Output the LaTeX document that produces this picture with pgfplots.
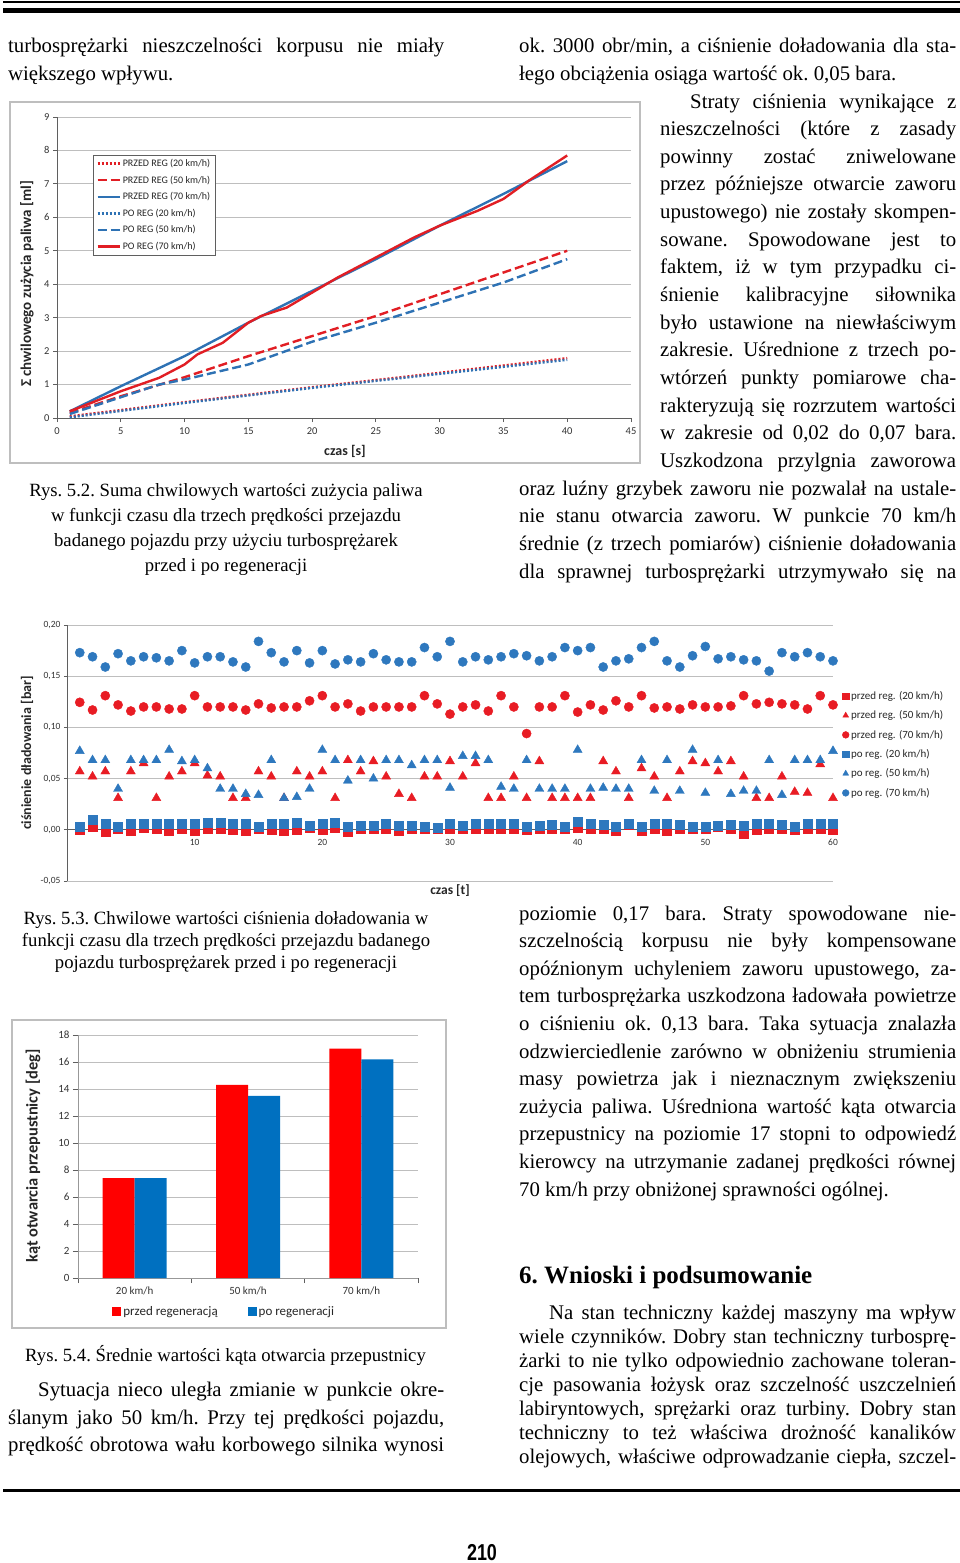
\documentclass[border=0pt]{standalone}
\usepackage{fontspec}
\setmainfont{Liberation Serif}
\newfontfamily\cf{Carlito}
\newfontfamily\pnum[FakeStretch=0.78]{Liberation Sans}
\usepackage{pgfplots}
\pgfplotsset{compat=1.18}
\usepackage{pgfplotstable}

\definecolor{aRed}{RGB}{225,30,36}
\definecolor{aBlue}{RGB}{46,114,180}
\definecolor{bRed}{RGB}{232,28,36}
\definecolor{bBlue}{RGB}{46,120,190}
\definecolor{cRed}{RGB}{255,0,0}
\definecolor{cBlue}{RGB}{0,112,192}
\definecolor{gridc}{RGB}{190,190,190}
\definecolor{axc}{RGB}{95,95,95}

\newcommand\body{\fontsize{20.8}{25}\selectfont\frenchspacing}
\newcommand\capf{\fontsize{18.7}{22}\selectfont\frenchspacing}
% justified line, natural line, centred caption line
\newcommand\J[4]{\node[anchor=base west,inner sep=0pt] at (#1,-#2) {\body\makebox[#3pt][s]{#4}};}
\newcommand\N[3]{\node[anchor=base west,inner sep=0pt] at (#1,-#2) {\body #3};}
\newcommand\C[3]{\node[anchor=base,inner sep=0pt] at (#1,-#2) {\capf #3};}

% boost pressure, t = time, r = przed reg., b = po reg.
\pgfplotstableread{
t r20 r50 r70 b20 b50 b70
1 0.000 0.057 0.1245 0.003 0.077 0.173
2 0.003 0.052 0.117 0.010 0.068 0.169
3 -0.002 0.057 0.131 0.006 0.068 0.159
4 0.001 0.031 0.122 0.003 0.040 0.172
5 -0.001 0.057 0.116 0.006 0.068 0.165
6 0.002 0.065 0.120 0.006 0.068 0.169
7 0.001 0.031 0.120 0.006 0.068 0.168
8 -0.001 0.052 0.118 0.006 0.078 0.165
9 0.001 0.057 0.118 0.006 0.067 0.175
10 -0.001 0.065 0.131 0.006 0.068 0.163
11 0.001 0.053 0.120 0.007 0.060 0.169
12 0.001 0.052 0.120 0.007 0.040 0.169
13 0.000 0.031 0.120 0.006 0.040 0.164
14 -0.001 0.031 0.117 0.006 0.035 0.159
15 0.001 0.057 0.123 0.003 0.034 0.184
16 0.000 0.052 0.119 0.006 0.068 0.173
17 -0.001 0.031 0.120 0.006 0.031 0.164
18 0.000 0.057 0.120 0.007 0.032 0.175
19 0.002 0.052 0.126 0.004 0.040 0.163
20 0.000 0.057 0.131 0.006 0.078 0.175
21 0.002 0.031 0.120 0.007 0.068 0.162
22 -0.002 0.068 0.123 0.003 0.048 0.166
23 0.001 0.057 0.116 0.004 0.068 0.164
24 0.001 0.067 0.120 0.004 0.050 0.172
25 0.001 0.052 0.120 0.006 0.068 0.166
26 -0.001 0.035 0.120 0.004 0.068 0.164
27 0.001 0.031 0.120 0.004 0.063 0.164
28 0.001 0.052 0.131 0.003 0.068 0.178
29 0.001 0.052 0.123 0.002 0.068 0.169
30 0.001 0.067 0.113 0.006 0.041 0.184
31 0.001 0.052 0.120 0.004 0.072 0.164
32 0.001 0.065 0.122 0.006 0.072 0.169
33 0.001 0.031 0.116 0.006 0.068 0.166
34 0.001 0.031 0.131 0.006 0.042 0.169
35 0.001 0.052 0.120 0.006 0.040 0.172
36 0.000 0.031 0.094 0.003 0.068 0.170
37 0.001 0.067 0.120 0.004 0.040 0.165
38 0.001 0.031 0.120 0.005 0.040 0.169
39 0.001 0.031 0.131 0.003 0.040 0.178
40 0.002 0.031 0.115 0.008 0.078 0.175
41 0.001 0.031 0.122 0.006 0.040 0.178
42 0.001 0.067 0.117 0.005 0.041 0.159
43 -0.001 0.057 0.126 0.003 0.040 0.165
44 0.005 0.031 0.120 0.006 0.040 0.167
45 -0.001 0.060 0.131 0.003 0.068 0.178
46 0.001 0.052 0.119 0.006 0.038 0.184
47 -0.001 0.031 0.120 0.006 0.068 0.165
48 0.001 0.057 0.118 0.005 0.038 0.159
49 0.001 0.067 0.122 0.003 0.078 0.170
50 0.001 0.065 0.120 0.003 0.036 0.179
51 0.003 0.057 0.120 0.004 0.068 0.167
52 0.001 0.067 0.121 0.005 0.035 0.169
53 -0.004 0.052 0.131 0.004 0.038 0.166
54 0.000 0.031 0.123 0.006 0.038 0.165
55 0.001 0.031 0.1245 0.006 0.068 0.155
56 0.001 0.052 0.123 0.005 0.034 0.173
57 0.000 0.037 0.122 0.003 0.068 0.169
58 0.001 0.036 0.118 0.006 0.068 0.173
59 0.001 0.064 0.131 0.006 0.068 0.169
60 0.000 0.031 0.122 0.006 0.077 0.165
}\boost

\begin{document}
\begin{tikzpicture}[x=1pt,y=1pt]
\useasboundingbox (0,0) rectangle (960,-1563);

% page rules
\fill (3,-1.2) rectangle (960,-3.2);
\fill (3,-8) rectangle (960,-13);
\fill (3,-1489) rectangle (960,-1491.5);
\node[anchor=base,inner sep=0pt] at (482,-1560) {\pnum\bfseries\fontsize{23}{26}\selectfont 210};

% ---------- text, left column ----------
\J{8}{52.5}{436}{turbosprężarki nieszczelności korpusu nie miały}
\N{8}{80.2}{większego wpływu.}
\C{226}{496}{Rys. 5.2. Suma chwilowych wartości zużycia paliwa}
\C{226}{521}{w funkcji czasu dla trzech prędkości przejazdu}
\C{226}{546}{badanego pojazdu przy użyciu turbosprężarek}
\C{226}{571}{przed i po regeneracji}
\C{226}{924}{Rys. 5.3. Chwilowe wartości ciśnienia doładowania w}
\C{226}{946}{funkcji czasu dla trzech prędkości przejazdu badanego}
\C{226}{968}{pojazdu turbosprężarek przed i po regeneracji}
\node[anchor=base west,inner sep=0pt] at (25,-1361) {\capf Rys. 5.4. Średnie wartości kąta otwarcia przepustnicy};
\J{38}{1396}{406}{Sytuacja nieco uległa zmianie w punkcie okre-}
\J{8}{1424}{436}{ślanym jako 50 km/h. Przy tej prędkości pojazdu,}
\J{8}{1451}{436}{prędkość obrotowa wału korbowego silnika wynosi}

% ---------- text, right column ----------
\J{519}{52.5}{437}{ok. 3000 obr/min, a ciśnienie doładowania dla sta-}
\N{519}{80.2}{łego obciążenia osiąga wartość ok. 0,05 bara.}
\J{690}{108}{266}{Straty ciśnienia wynikające z}
\J{660}{135.6}{296}{nieszczelności (które z zasady}
\J{660}{163.3}{296}{powinny zostać zniwelowane}
\J{660}{190.9}{296}{przez późniejsze otwarcie zaworu}
\J{660}{218.6}{296}{upustowego) nie zostały skompen-}
\J{660}{246.2}{296}{sowane. Spowodowane jest to}
\J{660}{273.9}{296}{faktem, iż w tym przypadku ci-}
\J{660}{301.5}{296}{śnienie kalibracyjne siłownika}
\J{660}{329.2}{296}{było ustawione na niewłaściwym}
\J{660}{356.8}{296}{zakresie. Uśrednione z trzech po-}
\J{660}{384.5}{296}{wtórzeń punkty pomiarowe cha-}
\J{660}{412.1}{296}{rakteryzują się rozrzutem wartości}
\J{660}{439.8}{296}{w zakresie od 0,02 do 0,07 bara.}
\J{660}{467.4}{296}{Uszkodzona przylgnia zaworowa}
\J{519}{495.1}{437}{oraz luźny grzybek zaworu nie pozwalał na ustale-}
\J{519}{522.7}{437}{nie stanu otwarcia zaworu. W punkcie 70 km/h}
\J{519}{550.4}{437}{średnie (z trzech pomiarów) ciśnienie doładowania}
\J{519}{578}{437}{dla sprawnej turbosprężarki utrzymywało się na}

\J{519}{920}{437}{poziomie 0,17 bara. Straty spowodowane nie-}
\J{519}{947.6}{437}{szczelnością korpusu nie były kompensowane}
\J{519}{975.2}{437}{opóźnionym uchyleniem zaworu upustowego, za-}
\J{519}{1002.8}{437}{tem turbosprężarka uszkodzona ładowała powietrze}
\J{519}{1030.4}{437}{o ciśnieniu ok. 0,13 bara. Taka sytuacja znalazła}
\J{519}{1058}{437}{odzwierciedlenie zarówno w obniżeniu strumienia}
\J{519}{1085.6}{437}{masy powietrza jak i nieznacznym zwiększeniu}
\J{519}{1113.2}{437}{zużycia paliwa. Uśredniona wartość kąta otwarcia}
\J{519}{1140.8}{437}{przepustnicy na poziomie 17 stopni to odpowiedź}
\J{519}{1168.4}{437}{kierowcy na utrzymanie zadanej prędkości równej}
\N{519}{1196}{70 km/h przy obniżonej sprawności ogólnej.}

\node[anchor=base west,inner sep=0pt] at (519,-1283) {\fontsize{25}{28}\selectfont\bfseries\frenchspacing 6. Wnioski i podsumowanie};
\J{549}{1319}{407}{Na stan techniczny każdej maszyny ma wpływ}
\J{519}{1343}{437}{wiele czynników. Dobry stan techniczny turbosprę-}
\J{519}{1367}{437}{żarki to nie tylko odpowiednio zachowane toleran-}
\J{519}{1391}{437}{cje pasowania łożysk oraz szczelność uszczelnień}
\J{519}{1415}{437}{labiryntowych, sprężarki oraz turbiny. Dobry stan}
\J{519}{1439}{437}{techniczny to też właściwa drożność kanalików}
\J{519}{1463}{437}{olejowych, właściwe odprowadzanie ciepła, szczel-}

% ---------- chart frames and labels ----------
\draw[gridc, line width=1.2pt] (10,-102) rectangle (640,-463);
\draw[gridc, line width=1.2pt] (12,-1020) rectangle (446,-1328);
\node[rotate=90, font=\cf\bfseries\fontsize{15}{17}\selectfont, text=black!85] at (27,-284) {Σ chwilowego zużycia paliwa [ml]};
\node[font=\cf\bfseries\fontsize{14}{16}\selectfont, text=black!85] at (345,-451) {czas [s]};
\node[rotate=90, font=\cf\bfseries\fontsize{14}{16}\selectfont, text=black!85] at (27,-753) {ciśnienie dładowania [bar]};
\node[font=\cf\bfseries\fontsize{13.5}{15}\selectfont, text=black!85] at (450,-891) {czas [t]};
\node[rotate=90, font=\cf\bfseries\fontsize{16.4}{18}\selectfont, text=black!85] at (33,-1156) {kąt otwarcia przepustnicy [deg]};

% ---------- Rys. 5.2 ----------
\begin{axis}[
  at={(57pt,-418pt)}, anchor=south west, scale only axis,
  width=574pt, height=301pt,
  xmin=0, xmax=45, ymin=0, ymax=9,
  xtick={0,5,...,45}, ytick={0,1,...,9},
  axis lines*=left, axis line style={-, draw=axc, line width=0.9pt},
  ymajorgrids, grid style={gridc, line width=0.9pt},
  tick align=outside, major tick length=4pt, tick style={axc, line width=0.8pt},
  ticklabel style={font=\cf\fontsize{10.5}{12}\selectfont, text=black!80},
  x tick label style={yshift=-2pt},
  /pgf/number format/assume math mode=true,
  no markers,
  legend style={at={(0.063,0.874)}, anchor=north west, draw=axc,
    font=\cf\fontsize{10}{12}\selectfont, text=black!85, row sep=3.8pt},
  legend cell align=left,
  legend image code/.code={\draw[#1] (0pt,0pt) -- (22pt,0pt);},
]
\addplot[aRed, line width=2.4pt, dash pattern=on 2pt off 2pt] coordinates {(1,0.05)(10,0.47)(20,0.92)(30,1.35)(40,1.79)};
\addlegendentry{PRZED REG (20 km/h)}
\addplot[aRed, line width=2.4pt, dash pattern=on 9pt off 4pt] coordinates {(1,0.15)(5,0.65)(10,1.22)(15,1.85)(20,2.45)(25,3.05)(30,3.7)(35,4.35)(40,5.0)};
\addlegendentry{PRZED REG (50 km/h)}
\addplot[aBlue, line width=2.4pt] coordinates {(1,0.2)(5,0.95)(10,1.85)(15,2.85)(20,3.8)(25,4.75)(30,5.75)(35,6.7)(40,7.68)};
\addlegendentry{PRZED REG (70 km/h)}
\addplot[aBlue, line width=2.4pt, dash pattern=on 2pt off 2pt] coordinates {(1,0.02)(10,0.45)(20,0.9)(30,1.32)(40,1.74)};
\addlegendentry{PO REG (20 km/h)}
\addplot[aBlue, line width=2.4pt, dash pattern=on 9pt off 4pt] coordinates {(1,0.12)(5,0.62)(8,1.0)(10,1.15)(15,1.6)(20,2.28)(25,2.85)(30,3.45)(35,4.05)(40,4.75)};
\addlegendentry{PO REG (50 km/h)}
\addplot[aRed, line width=2.4pt] coordinates {(1,0.2)(5,0.8)(8,1.2)(9,1.4)(10,1.6)(11,1.9)(13,2.25)(15,2.85)(16,3.05)(18,3.3)(20,3.75)(22,4.2)(25,4.8)(28,5.4)(30,5.75)(33,6.2)(35,6.55)(37,7.1)(40,7.85)};
\addlegendentry{PO REG (70 km/h)}
\end{axis}

% ---------- Rys. 5.3 ----------
\begin{axis}[
  at={(67pt,-881pt)}, anchor=south west, scale only axis,
  width=766pt, height=256pt,
  xmin=0, xmax=60, ymin=-0.05, ymax=0.2,
  xtick={0,10,...,60}, ytick={-0.05,0,0.05,0.1,0.15,0.2},
  axis x line=middle, axis y line=left,
  axis line style={-, draw=axc, line width=0.9pt},
  ymajorgrids, grid style={gridc, line width=0.9pt},
  tick align=outside, major tick length=3pt, tick style={axc, line width=0.8pt},
  ticklabel style={font=\cf\fontsize{9.5}{11}\selectfont, text=black!80},
  x tick label style={yshift=-3pt},
  yticklabel style={/pgf/number format/.cd, use comma, fixed, fixed zerofill, precision=2},
  /pgf/number format/assume math mode=true,
  only marks,
  legend style={at={(1.008,0.757)}, anchor=north west, draw=none, fill=none,
    font=\cf\fontsize{11}{13}\selectfont, text=black!85, row sep=5.8pt},
  legend cell align=left,
  legend image code/.code={\draw[#1, mark size=3.4pt] plot coordinates {(3pt,0pt)};},
]
\addplot[mark=square*, mark size=4.5pt, mark options={draw=bRed, fill=bRed}] table[x=t, y=r20] {\boost};
\addlegendentry{przed reg. (20 km/h)}
\addplot[mark=triangle*, mark size=5.2pt, mark options={draw=bRed, fill=bRed}] table[x=t, y=r50] {\boost};
\addlegendentry{przed reg. (50 km/h)}
\addplot[mark=*, mark size=4.6pt, mark options={draw=bRed, fill=bRed}] table[x=t, y=r70] {\boost};
\addlegendentry{przed reg. (70 km/h)}
\addplot[mark=square*, mark size=4.5pt, mark options={draw=bBlue, fill=bBlue}] table[x=t, y=b20] {\boost};
\addlegendentry{po reg. (20 km/h)}
\addplot[mark=triangle*, mark size=5.2pt, mark options={draw=bBlue, fill=bBlue}] table[x=t, y=b50] {\boost};
\addlegendentry{po reg. (50 km/h)}
\addplot[mark=*, mark size=4.6pt, mark options={draw=bBlue, fill=bBlue}] table[x=t, y=b70] {\boost};
\addlegendentry{po reg. (70 km/h)}
\end{axis}

% ---------- Rys. 5.4 ----------
\begin{axis}[
  at={(78pt,-1278pt)}, anchor=south west, scale only axis,
  width=340pt, height=243pt,
  xmin=-0.5, xmax=2.5, ymin=0, ymax=18,
  ybar, bar width=32pt,
  xtick={0,1,2}, xticklabels={20 km/h, 50 km/h, 70 km/h},
  minor xtick={-0.5,0.5,1.5,2.5}, x tick style={draw=none},
  minor x tick style={draw=axc, line width=0.8pt}, minor tick length=5pt,
  ytick={0,2,...,18},
  axis lines*=left, axis line style={-, draw=gridc!80!black, line width=0.9pt},
  ymajorgrids, grid style={gridc, line width=0.9pt},
  tick align=outside, major tick length=5pt, y tick style={axc, line width=0.8pt},
  ticklabel style={font=\cf\fontsize{11}{13}\selectfont, text=black!80},
  /pgf/number format/assume math mode=true,
  legend style={at={(0.43,-0.1)}, anchor=north, draw=none, fill=none,
    font=\cf\fontsize{13}{15}\selectfont, text=black!85,
    /tikz/every even column/.append style={column sep=28pt}},
  legend columns=2,
  legend image code/.code={\fill[#1] (0pt,-4.5pt) rectangle (9pt,4.5pt);},
]
\addplot[fill=cRed, draw=none, bar shift=-16pt] coordinates {(0,7.4)(1,14.3)(2,17.0)};
\addlegendentry{przed regeneracją}
\addplot[fill=cBlue, draw=none, bar shift=16pt] coordinates {(0,7.4)(1,13.5)(2,16.2)};
\addlegendentry{po regeneracji}
\end{axis}
\end{tikzpicture}
\end{document}
